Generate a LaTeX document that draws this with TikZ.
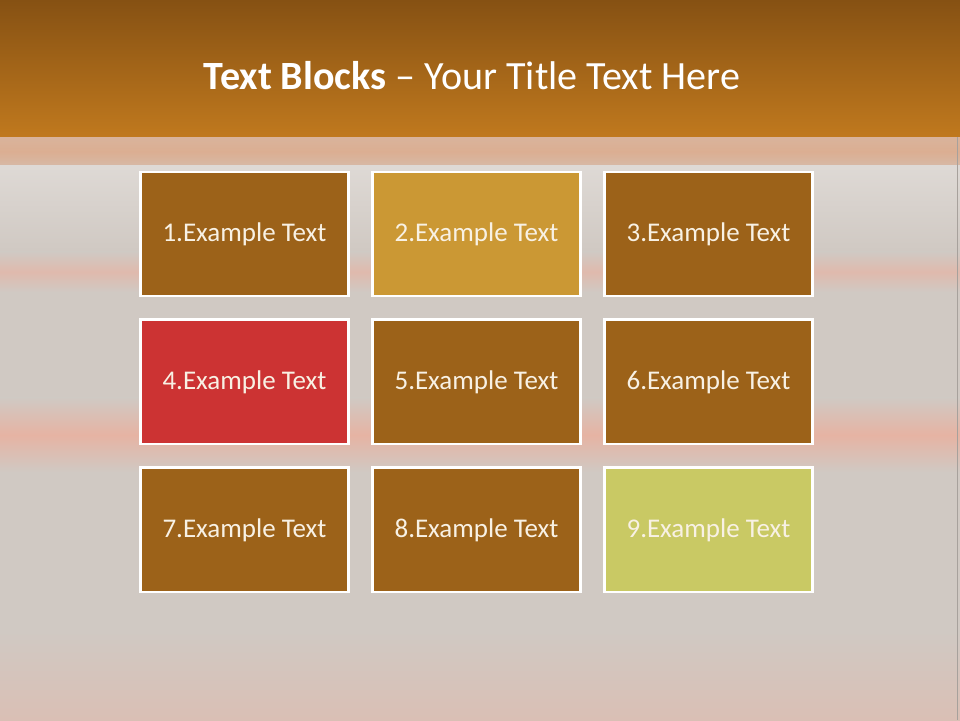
\documentclass[tikz,border=0pt]{standalone}
\usepackage{fontspec}
\setmainfont{Carlito}
\usetikzlibrary{positioning}

\definecolor{slidebg}{HTML}{D0C9C3}
\definecolor{bandpink}{HTML}{E6B3A3}
\definecolor{bandtan}{HTML}{DBAE92}
\definecolor{titletop}{HTML}{865113}
\definecolor{titlebot}{HTML}{C0791E}
\definecolor{blockbrown}{HTML}{9C6219}
\definecolor{blockgold}{HTML}{CB9834}
\definecolor{blockred}{HTML}{CC3333}
\definecolor{blockolive}{HTML}{C9C964}
\definecolor{blocktext}{HTML}{F8F1E4}

\begin{document}
\begin{tikzpicture}[
    x=0.025cm, y=-0.025cm,
    node distance=0.525cm,
    block/.style={rectangle, draw=white, line width=2.1pt, fill=blockbrown,
        minimum width=5.2cm, minimum height=3.1cm, text=blocktext,
        font=\fontsize{19.2}{22}\selectfont},
    band/.style={top color=slidebg, bottom color=slidebg, middle color=#1}
]
    % background and soft bands
    \fill[slidebg] (0,0) rectangle (960,720);
    \shade[top color=bandtan!80!slidebg, bottom color=bandtan!60!slidebg, middle color=bandtan] (0,137) rectangle (960,166);
    \shade[top color=slidebg!70!white, bottom color=slidebg] (0,166) rectangle (960,250);
    \shade[band=bandpink!70!slidebg] (0,252) rectangle (960,292);
    \shade[band=bandpink] (0,398) rectangle (960,472);
    \shade[top color=slidebg, bottom color=bandpink!45!slidebg] (0,630) rectangle (960,720);
    \draw[slidebg!80!black, line width=0.6pt] (957,137) -- (957,720);

    % title bar
    \shade[top color=titletop, bottom color=titlebot] (0,0) rectangle (960,137);
    \node[text=white, font=\fontsize{28.5}{33}\selectfont] (title) at (472,76)
        {\textbf{Text Blocks} -- Your Title Text Here};

    % blocks
    \node[block] (b1) at (244.5,234) {1.Example Text};
    \node[block, right=of b1, fill=blockgold] (b2) {2.Example Text};
    \node[block, right=of b2] (b3) {3.Example Text};
    \node[block, below=of b1, fill=blockred] (b4) {4.Example Text};
    \node[block, right=of b4] (b5) {5.Example Text};
    \node[block, right=of b5] (b6) {6.Example Text};
    \node[block, below=of b4] (b7) {7.Example Text};
    \node[block, right=of b7] (b8) {8.Example Text};
    \node[block, right=of b8, fill=blockolive] (b9) {9.Example Text};
\end{tikzpicture}
\end{document}
